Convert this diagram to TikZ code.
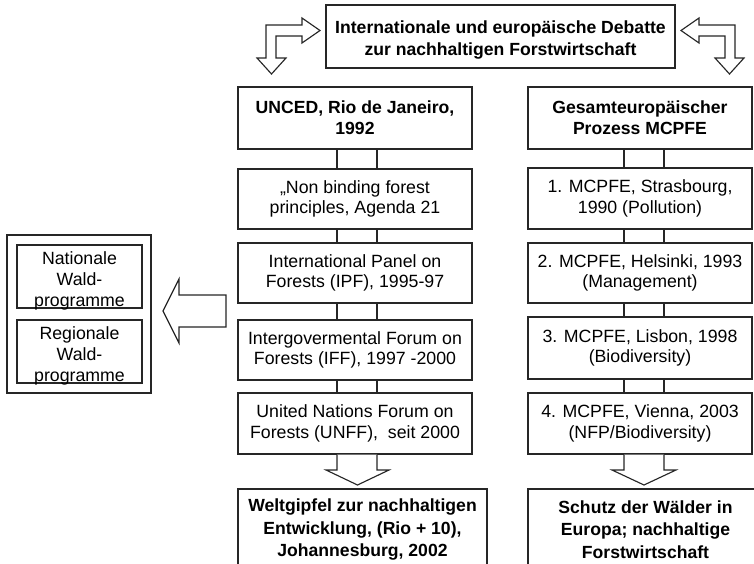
\documentclass[tikz,border=0pt]{standalone}
\usepackage{fontspec}
\setmainfont{Liberation Sans}
\usetikzlibrary{calc}
\newcommand\bx[7][]{\node[box,#1,minimum width={(#4-#2)*0.75pt},minimum height={(#5-#3)*0.75pt}] (#6) at ({(#2+#4)/2},{(#3+#5)/2}) {#7};}
\begin{document}
\begin{tikzpicture}[x=0.75pt,y=-0.75pt,
  ln/.style={draw=black!85, line width=0.85pt, line join=miter},
  box/.style={ln, fill=white, inner sep=0pt, align=center, font=\fontsize{13.3}{15.5}\selectfont},
  boldbox/.style={box, font=\fontsize{13.2}{17}\bfseries\selectfont},
  headbox/.style={box, font=\fontsize{13.2}{15.5}\bfseries\selectfont},
  txt/.style={inner sep=0pt, align=center, font=\fontsize{13.3}{15.75}\selectfont},
  boldtxt/.style={inner sep=0pt, align=center, font=\fontsize{13.2}{17}\bfseries\selectfont},
  blk/.style={ln, fill=white}]
\useasboundingbox (0,0) rectangle (754,564);
\clip (0,0) rectangle (754,564);

% top box
\bx{326}{5}{675}{68}{top}{}
\node[boldtxt] (topt) at ([yshift=-2.5pt]top.center) {Internationale und europäische Debatte\\zur nachhaltigen Forstwirtschaft};

% left column
\bx[headbox]{238}{87}{472}{149}{L1}{UNCED, Rio de Janeiro,\\1992}
\bx{238}{169}{472}{229}{L2}{„Non binding forest\\principles, Agenda 21}
\bx{238}{243}{472}{303}{L3}{International Panel on\\Forests (IPF), 1995-97}
\bx{238}{320}{472}{380}{L4}{Intergovermental Forum on\\Forests (IFF), 1997 -2000}
\bx{238}{393}{472}{454}{L5}{United Nations Forum on\\Forests (UNFF),~ seit 2000}
\bx[boldbox]{238}{489}{487}{570}{L6}{Weltgipfel zur nachhaltigen\\Entwicklung, (Rio + 10),\\Johannesburg, 2002}

% right column
\bx[headbox]{528}{87}{752}{149}{R1}{Gesamteuropäischer\\Prozess MCPFE}
\bx{528}{168}{752}{229}{R2}{1. MCPFE, Strasbourg,\\1990 (Pollution)}
\bx{528}{243}{752}{303}{R3}{2. MCPFE, Helsinki, 1993\\(Management)}
\bx{528}{317}{752}{379}{R4}{3. MCPFE, Lisbon, 1998\\(Biodiversity)}
\bx{528}{393}{752}{454}{R5}{4. MCPFE, Vienna, 2003\\(NFP/Biodiversity)}
\bx[boldbox]{528}{489}{763}{570}{R6}{Schutz der Wälder in\\Europa; nachhaltige\\Forstwirtschaft}

% left group
\bx{7}{235}{151}{393}{grp}{}
\bx{17}{245}{142}{308}{nat}{}
\bx{17}{320}{142}{383}{reg}{}
\node[txt] (natt) at ([yshift=-3pt]nat.center) {Nationale\\Wald-\\programme};
\node[txt] (regt) at ([yshift=-3pt]reg.center) {Regionale\\Wald-\\programme};

% connector guide coordinates
\coordinate (la) at (337,0);
\coordinate (lb) at (377,0);
\coordinate (ra) at (624,0);
\coordinate (rb) at (664,0);

\foreach \u/\v in {L1/L2,L2/L3,L3/L4,L4/L5}{
  \draw[ln] (\u.south -| la) -- (\v.north -| la);
  \draw[ln] (\u.south -| lb) -- (\v.north -| lb);
}
\foreach \u/\v in {R1/R2,R2/R3,R3/R4,R4/R5}{
  \draw[ln] (\u.south -| ra) -- (\v.north -| ra);
  \draw[ln] (\u.south -| rb) -- (\v.north -| rb);
}

% down block arrows to result boxes
\draw[blk] (L5.south -| la) -- (337,470) -- (326,470) -- (357.5,485) -- (389,470) -- (377,470) -- (L5.south -| lb);
\draw[blk] (R5.south -| ra) -- (624,470) -- (612,470) -- (644,485) -- (676,470) -- (664,470) -- (R5.south -| rb);

% big left arrow towards programmes
\draw[blk] (163,311) -- (179,279) -- (179,295) -- (226,295) -- (226,327) -- (179,327) -- (179,343) -- cycle;

% bent arrows at the top
\draw[blk] (320,30.5) -- (302,18) -- (302,25) -- (266,25) -- (266,58) -- (257,58) -- (271.5,74) -- (286,58) -- (276,58) -- (276,36) -- (302,36) -- (302,43) -- cycle;
\draw[blk] (681,30.5) -- (699,18) -- (699,25) -- (735,25) -- (735,58) -- (744,58) -- (729.5,74) -- (715,58) -- (725,58) -- (725,36) -- (699,36) -- (699,43) -- cycle;
\end{tikzpicture}
\end{document}
